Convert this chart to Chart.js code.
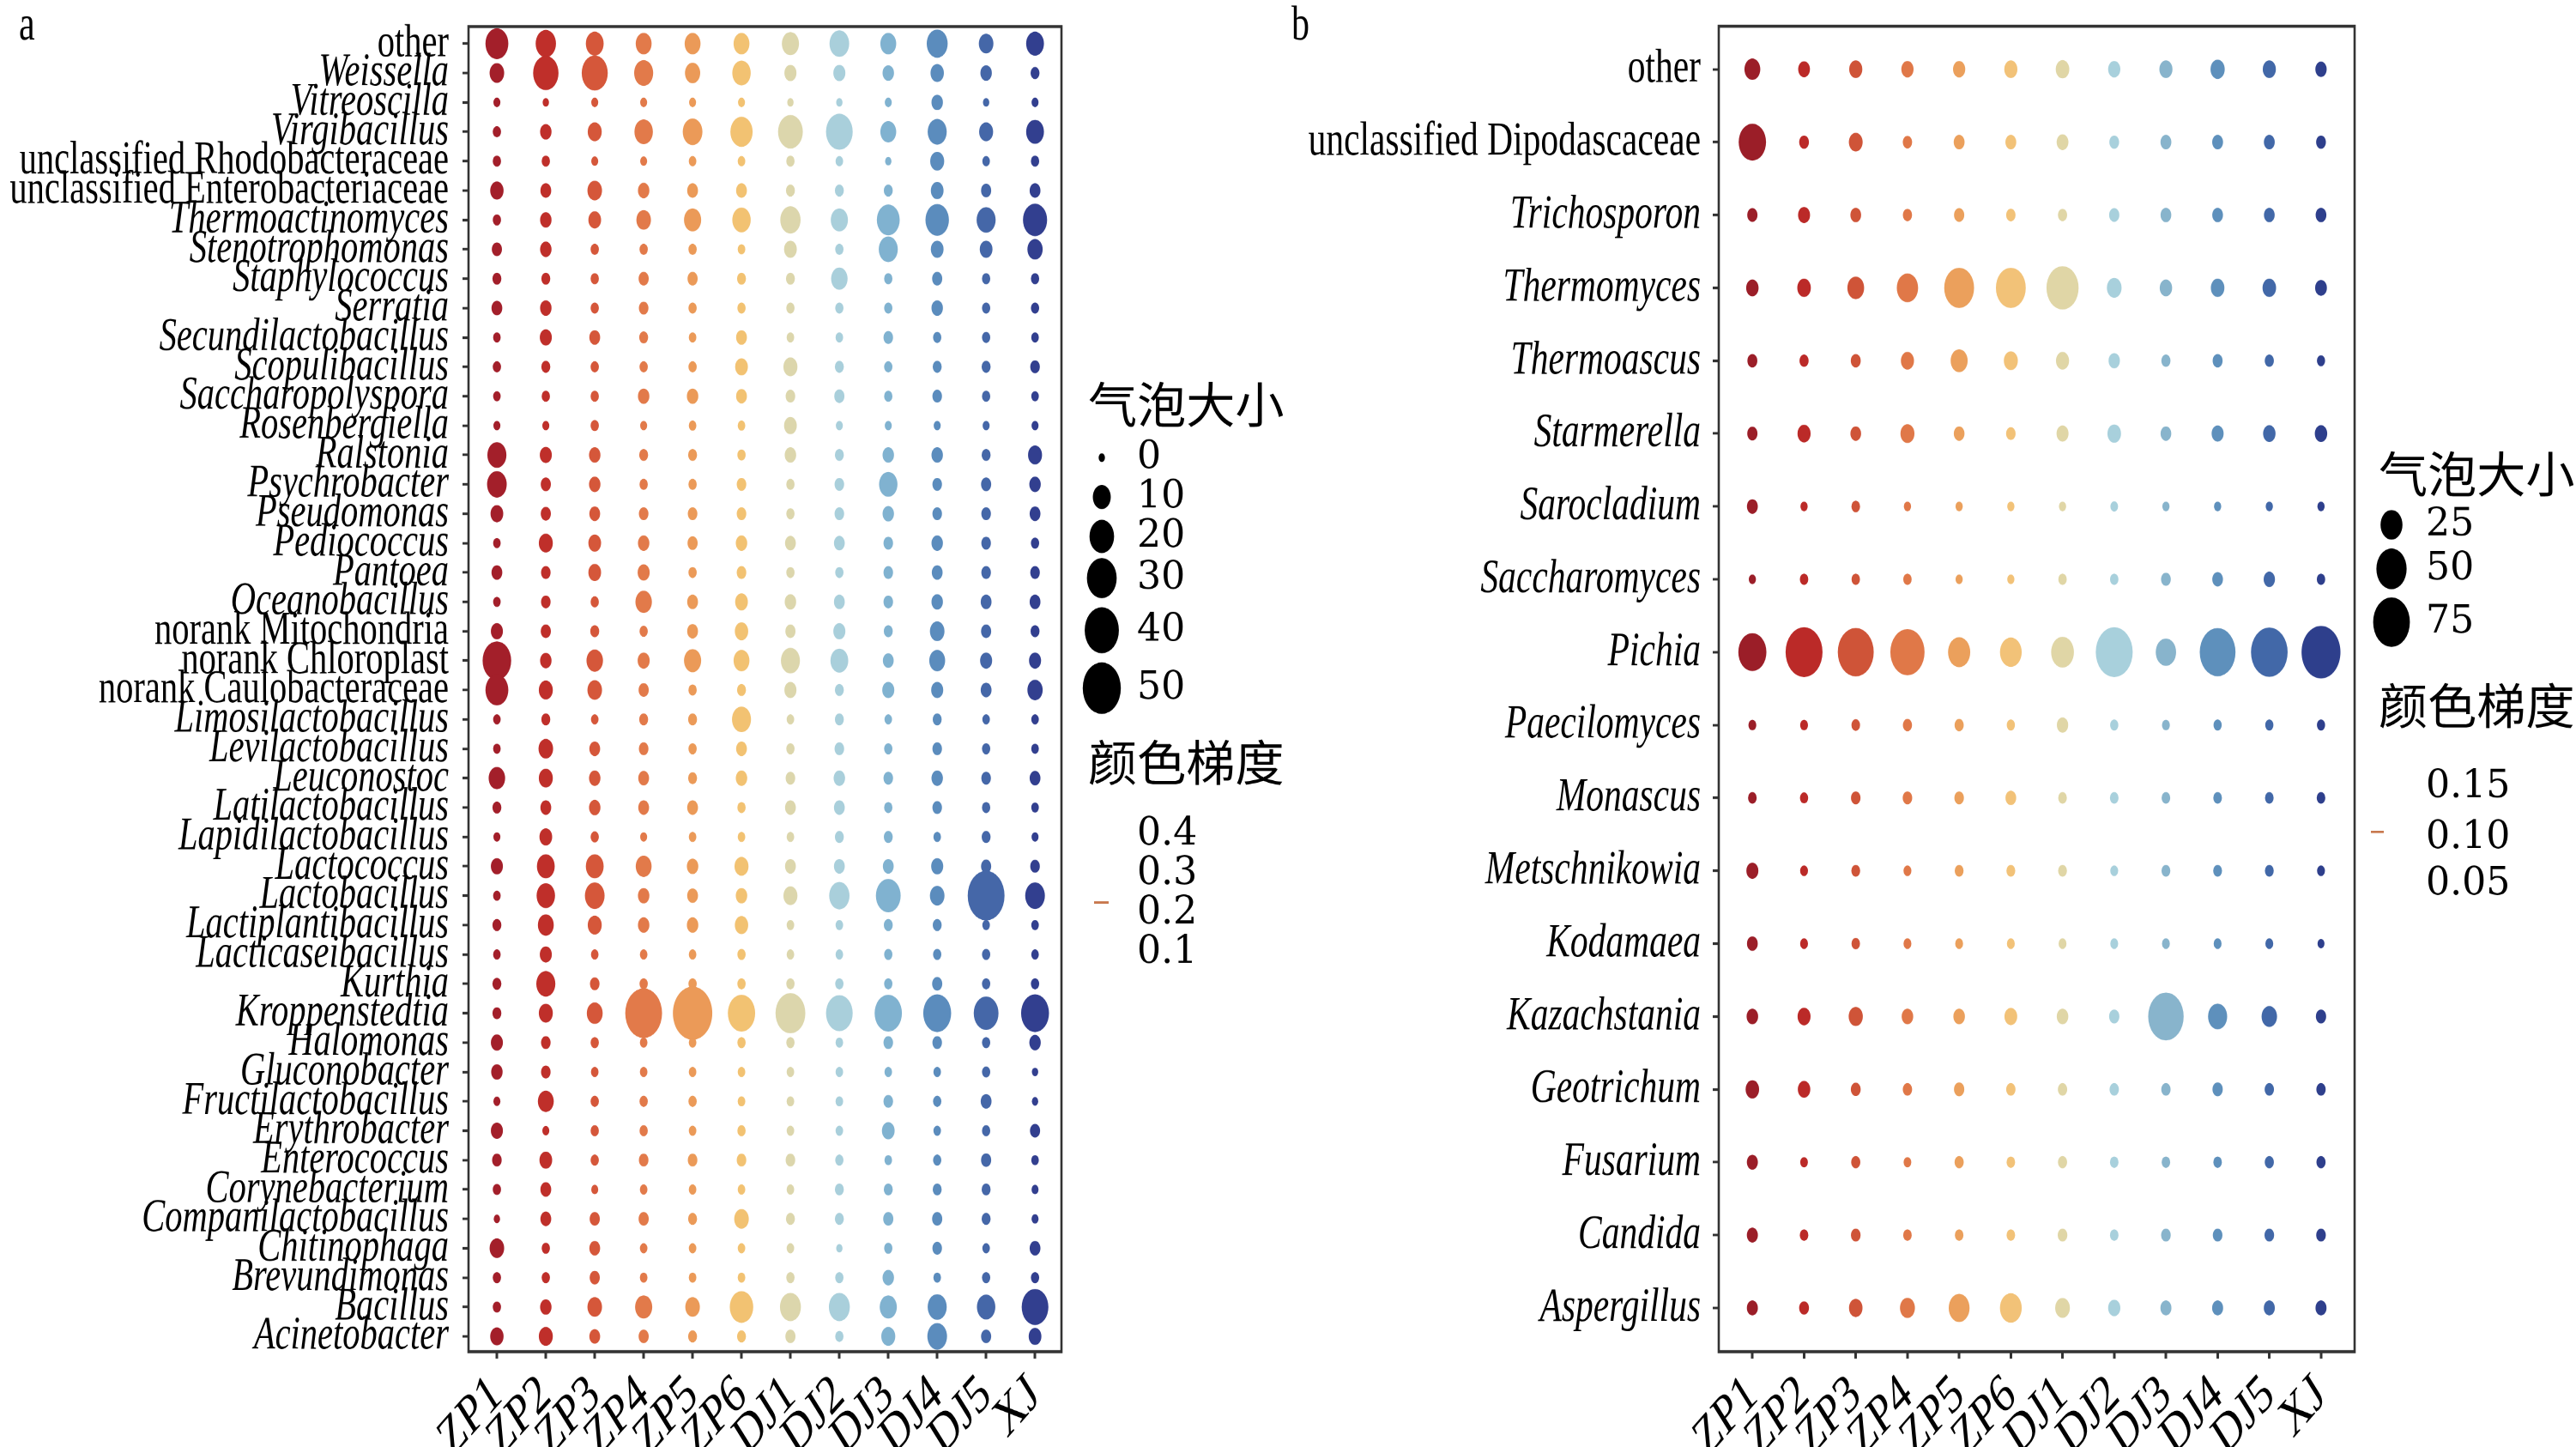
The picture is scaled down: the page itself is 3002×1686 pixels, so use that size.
<!DOCTYPE html>
<html>
<head>
<meta charset="utf-8">
<script src="https://cdn.jsdelivr.net/npm/chart.js@4"></script>
<style>
html, body { margin: 0; padding: 0; background: #fff; }
body { width: 3002px; height: 1686px; position: relative; overflow: hidden; }
/* the source figure is stretched vertically; draw flat and stretch the canvas */
.wrap { position: absolute; top: 0; transform-origin: 0 0; transform: scaleY(1.34988); }
</style>
</head>
<body>
<div class="wrap" style="left:0;width:1500px;height:1249px"><canvas id="ca" width="1500" height="1249"></canvas></div>
<div class="wrap" style="left:1490px;width:1512px;height:1249px"><canvas id="cb" width="1512" height="1249"></canvas></div>
<script>
// Bubble plots, bacteria (a) and fungi (b), 12 samples.
const samples = ['ZP1', 'ZP2', 'ZP3', 'ZP4', 'ZP5', 'ZP6', 'DJ1', 'DJ2', 'DJ3', 'DJ4', 'DJ5', 'XJ'];

const taxaA = ['other', 'Weissella', 'Vitreoscilla', 'Virgibacillus', 'unclassified Rhodobacteraceae',
  'unclassified Enterobacteriaceae', 'Thermoactinomyces', 'Stenotrophomonas', 'Staphylococcus', 'Serratia',
  'Secundilactobacillus', 'Scopulibacillus', 'Saccharopolyspora', 'Rosenbergiella', 'Ralstonia', 'Psychrobacter',
  'Pseudomonas', 'Pediococcus', 'Pantoea', 'Oceanobacillus', 'norank Mitochondria', 'norank Chloroplast',
  'norank Caulobacteraceae', 'Limosilactobacillus', 'Levilactobacillus', 'Leuconostoc', 'Latilactobacillus',
  'Lapidilactobacillus', 'Lactococcus', 'Lactobacillus', 'Lactiplantibacillus', 'Lacticaseibacillus', 'Kurthia',
  'Kroppenstedtia', 'Halomonas', 'Gluconobacter', 'Fructilactobacillus', 'Erythrobacter', 'Enterococcus',
  'Corynebacterium', 'Companilactobacillus', 'Chitinophaga', 'Brevundimonas', 'Bacillus', 'Acinetobacter'];

// bubble size per taxon (rows) and sample (columns)
const sizeA = [
  [17.1, 13.2, 9.8, 7.5, 7.5, 7.5, 9.0, 12.3, 7.5, 14.1, 6.1, 9.8],
  [6.1, 21.4, 22.6, 11.4, 6.8, 10.6, 3.7, 3.7, 3.2, 4.9, 3.2, 1.4],
  [0.3, 0, 0.3, 0.3, 0.3, 0.3, 0, 0, 0.3, 3.2, 0, 0.3],
  [1.0, 3.2, 5.5, 10.6, 12.3, 16.1, 20.3, 23.8, 7.5, 11.4, 5.5, 9.8],
  [1.0, 1.0, 0.3, 0.3, 0.6, 0.6, 1.0, 0.6, 0, 5.5, 0.6, 1.0],
  [4.9, 2.7, 6.1, 3.2, 2.7, 2.7, 1.4, 1.4, 1.4, 4.3, 2.2, 2.7],
  [1.0, 3.2, 4.3, 6.1, 9.0, 10.6, 13.2, 9.0, 17.1, 18.1, 11.4, 19.2],
  [2.2, 3.2, 1.0, 1.0, 1.0, 0.6, 4.3, 1.0, 11.4, 4.3, 4.3, 6.8],
  [1.4, 1.4, 1.0, 2.2, 2.2, 1.4, 1.4, 8.2, 1.0, 2.2, 1.0, 1.0],
  [2.7, 3.2, 1.0, 1.8, 1.0, 1.0, 1.0, 1.0, 1.0, 3.2, 1.0, 1.0],
  [0.6, 3.7, 2.7, 1.4, 0.6, 2.7, 0.6, 0.6, 1.8, 1.0, 1.0, 0.6],
  [1.0, 1.4, 1.0, 1.0, 1.0, 4.3, 5.5, 1.4, 1.0, 1.4, 1.4, 1.8],
  [0.6, 1.0, 1.0, 3.2, 3.2, 2.7, 1.8, 2.2, 1.0, 1.8, 1.0, 0.6],
  [0.3, 0.3, 1.0, 0.3, 0.6, 0.6, 4.3, 0.3, 0.3, 0.3, 0.3, 0.3],
  [11.4, 3.7, 3.2, 1.4, 1.4, 1.0, 3.2, 1.4, 3.2, 3.2, 1.4, 5.5],
  [12.3, 2.2, 3.2, 1.0, 1.0, 1.8, 1.0, 1.8, 10.6, 1.8, 2.2, 3.2],
  [4.3, 2.2, 2.7, 1.8, 1.8, 1.8, 1.0, 1.8, 3.2, 1.8, 1.8, 2.7],
  [0.6, 5.5, 4.3, 3.2, 2.2, 3.2, 2.7, 2.7, 1.8, 3.2, 1.8, 1.0],
  [2.7, 1.8, 4.3, 3.7, 1.0, 1.8, 1.0, 1.0, 1.8, 2.7, 1.8, 1.8],
  [0.6, 1.8, 1.0, 8.2, 2.7, 4.3, 3.2, 2.7, 1.8, 3.2, 2.7, 2.7],
  [3.7, 2.2, 1.4, 1.0, 2.7, 4.9, 2.2, 3.7, 1.4, 6.1, 2.2, 1.4],
  [27.5, 3.2, 8.2, 3.7, 9.0, 7.5, 11.4, 9.8, 2.7, 7.5, 3.7, 3.7],
  [17.1, 5.5, 6.1, 2.2, 1.0, 1.4, 3.7, 1.4, 3.7, 3.7, 2.7, 6.8],
  [0.6, 1.4, 0.6, 1.4, 1.4, 11.4, 0.6, 1.4, 0.6, 1.4, 0.6, 0.6],
  [0.6, 6.1, 2.7, 1.8, 1.0, 2.7, 1.0, 1.8, 1.0, 1.8, 1.0, 0.6],
  [8.2, 5.5, 3.2, 2.7, 1.4, 3.2, 1.8, 3.2, 1.8, 3.2, 1.8, 2.7],
  [1.4, 2.7, 3.2, 2.7, 2.7, 1.0, 2.7, 2.7, 1.0, 1.8, 1.0, 0.6],
  [0.3, 4.3, 1.0, 0.3, 0.6, 0.6, 0.6, 1.4, 1.4, 0.6, 1.4, 0.3],
  [3.7, 9.8, 9.8, 7.5, 3.2, 5.5, 2.7, 2.7, 2.7, 3.7, 2.2, 1.8],
  [0.6, 10.6, 12.3, 3.2, 2.7, 3.2, 5.5, 13.2, 20.3, 6.1, 46.6, 12.3],
  [1.4, 7.5, 5.5, 3.2, 3.2, 4.9, 0.6, 0.6, 1.4, 1.4, 0.6, 0.6],
  [0.6, 3.7, 0.6, 0.6, 0.6, 1.0, 0.6, 0.6, 1.0, 1.0, 1.0, 0.6],
  [1.4, 11.4, 1.8, 1.0, 1.0, 1.0, 1.0, 1.0, 1.0, 2.2, 1.0, 1.0],
  [1.4, 5.5, 7.5, 46.6, 53.5, 25.0, 30.1, 23.8, 25.0, 26.2, 20.3, 26.2],
  [3.7, 1.8, 1.0, 0.6, 0.6, 1.0, 1.0, 0.6, 1.8, 1.8, 1.0, 3.2],
  [3.2, 1.8, 0.6, 0.6, 0.6, 0.6, 0.6, 0.6, 0.6, 0.6, 1.0, 0],
  [0.3, 7.5, 1.0, 1.0, 1.0, 0.6, 0.6, 0.6, 1.8, 1.0, 2.7, 0],
  [3.7, 0.3, 1.0, 1.0, 0.6, 1.0, 0.6, 0.6, 4.3, 0.6, 1.0, 2.2],
  [1.8, 4.3, 1.0, 1.8, 1.8, 1.8, 1.8, 1.0, 0.6, 1.0, 2.2, 0.6],
  [1.0, 2.7, 0.3, 0.6, 0.6, 0.6, 0.6, 1.4, 1.4, 1.4, 1.4, 0.3],
  [0, 2.7, 2.2, 2.2, 1.4, 6.1, 1.4, 1.4, 2.2, 2.2, 1.4, 0.3],
  [6.1, 1.0, 2.7, 0.6, 0.6, 0.6, 0.6, 0, 1.0, 1.8, 0.6, 2.7],
  [1.0, 1.0, 2.2, 0.6, 0.6, 0.6, 1.0, 1.0, 3.2, 0.6, 1.0, 1.0],
  [1.0, 3.2, 6.1, 9.0, 6.1, 18.1, 14.1, 14.1, 9.0, 11.4, 10.6, 23.8],
  [4.9, 5.5, 2.7, 2.2, 1.4, 1.4, 2.2, 1.0, 5.5, 12.3, 2.2, 4.3],
];

const taxaB = ['other', 'unclassified Dipodascaceae', 'Trichosporon', 'Thermomyces', 'Thermoascus', 'Starmerella',
  'Sarocladium', 'Saccharomyces', 'Pichia', 'Paecilomyces', 'Monascus', 'Metschnikowia', 'Kodamaea',
  'Kazachstania', 'Geotrichum', 'Fusarium', 'Candida', 'Aspergillus'];

const sizeB = [
  [11.7, 5.2, 7.1, 5.8, 5.8, 7.1, 7.8, 5.8, 7.1, 8.9, 7.1, 4.6],
  [40.4, 2.7, 8.2, 2.2, 4.0, 4.0, 5.2, 2.7, 4.0, 4.0, 4.0, 2.7],
  [3.2, 5.5, 3.8, 2.0, 3.2, 2.2, 2.0, 3.2, 3.8, 3.8, 3.8, 3.8],
  [6.1, 7.8, 13.4, 23.4, 48.6, 48.6, 56.7, 9.7, 6.1, 7.8, 7.8, 5.2],
  [2.9, 2.0, 2.9, 7.1, 13.9, 8.5, 7.1, 4.6, 2.0, 2.9, 2.0, 1.1],
  [3.2, 7.1, 3.8, 8.5, 3.8, 2.4, 5.5, 7.8, 3.8, 5.5, 6.1, 6.1],
  [4.0, 0.2, 1.5, 0.2, 0.2, 0.2, 0.2, 0.6, 0.2, 0.2, 0.2, 0.2],
  [0.2, 1.3, 1.3, 1.3, 0.2, 0.2, 1.3, 1.3, 2.7, 3.8, 4.6, 1.3],
  [42.7, 75.9, 71.6, 64.7, 25.6, 24.5, 27.2, 75.9, 21.1, 70.9, 74.6, 84.5],
  [0.8, 0.8, 1.5, 2.0, 2.0, 1.1, 4.6, 1.1, 0.8, 1.1, 1.1, 1.1],
  [1.5, 1.1, 2.4, 2.4, 2.4, 3.8, 1.5, 1.5, 1.5, 1.5, 1.5, 1.5],
  [5.5, 0.8, 1.7, 0.8, 1.7, 1.7, 1.7, 0.8, 1.7, 1.7, 1.7, 0.8],
  [3.9, 0.8, 1.4, 0.8, 0.8, 0.8, 0.8, 0.8, 0.8, 0.8, 0.8, 0],
  [4.9, 6.9, 8.8, 4.9, 4.9, 6.6, 4.9, 3.3, 69.8, 18.3, 11.0, 3.3],
  [7.7, 6.2, 2.8, 2.2, 3.3, 2.2, 2.2, 2.2, 2.2, 3.3, 2.2, 2.2],
  [4.2, 0.6, 2.0, 0.6, 2.0, 1.4, 2.0, 1.4, 1.4, 1.4, 2.0, 2.0],
  [4.2, 1.4, 2.5, 1.4, 1.4, 1.4, 2.5, 1.4, 2.5, 2.5, 2.5, 2.5],
  [4.2, 2.8, 7.7, 10.1, 22.3, 24.6, 9.7, 5.8, 4.2, 4.2, 4.2, 4.2],
];

const sizeBreaksA = [0, 10, 20, 30, 40, 50];
const sizeBreaksB = [25, 50, 75];
const colourTicksA = ['0.4', '0.3', '0.2', '0.1'];
const colourTicksB = ['0.15', '0.10', '0.05'];

const colsA = ['#a31f2a', '#bf2f2a', '#d5573a', '#e27a4a', '#eb9a58', '#f2c272', '#dcd6ac', '#a9cfdb', '#80b2d0', '#5b8cbd', '#4567a8', '#323f8f'];
const colsB = ['#9b1e28', '#bb2a28', '#cf5438', '#e07848', '#eba05c', '#f2c278', '#e0d6a6', '#a8d0dc', '#88b4cc', '#5e90bc', '#4268a8', '#2e3f8c'];

const SERIF = '"Liberation Serif", "Times New Roman", serif';
const NUM = '"DejaVu Serif", serif';
const CJK = '"Noto Sans CJK SC", sans-serif';
const H = 1249, BOTTOM = 1166.7, TOP = 18.5;

// area-scaled radius, like scale_size(range)
const sizeFn = (r0, r1, vmax) => (v) => Math.sqrt(r0 * r0 + (r1 * r1 - r0 * r0) * v / vmax);
const plain = (s) => s === 'other' || /^(unclassified|norank) /.test(s);

// legend text in the source is not stretched: widen it back horizontally
function wide(ctx, s, x, y, font, k) {
  ctx.save(); ctx.translate(x, y); ctx.scale(k, 1);
  ctx.font = font; ctx.textBaseline = 'middle'; ctx.textAlign = 'left';
  ctx.fillText(s, 0, 0); ctx.restore();
}

function framePlugin(o) {
  return {
    id: 'frame',
    afterDraw(chart) {
      const { ctx, chartArea: a } = chart;
      ctx.save();
      ctx.strokeStyle = '#333'; ctx.lineWidth = 2.6;
      ctx.strokeRect(a.left, a.top, a.right - a.left, a.bottom - a.top);
      ctx.fillStyle = '#000';
      ctx.font = `42px ${SERIF}`; ctx.textBaseline = 'alphabetic';
      ctx.fillText(o.letter, o.letterX, 34);
      wide(ctx, '气泡大小', o.legX, o.titleY, `42px ${CJK}`, 1.36);
      o.breaks.forEach((b, i) => {
        ctx.beginPath(); ctx.arc(o.dotX, o.dotY[i], o.r(b), 0, Math.PI * 2); ctx.fill();
        wide(ctx, String(b), o.numX, o.dotY[i], `34px ${NUM}`, 1.3);
      });
      wide(ctx, '颜色梯度', o.legX, o.colTitleY, `42px ${CJK}`, 1.36);
      o.colTicks.forEach((t, i) => wide(ctx, t, o.numX, o.colY[i], `34px ${NUM}`, 1.3));
      ctx.fillStyle = '#c8784e';
      ctx.fillRect(o.dashX, o.dashY - 1, o.dashW, 2);
      ctx.restore();
    },
  };
}

function panel(id, o) {
  const datasets = samples.map((s, i) => ({
    label: s,
    data: o.taxa.map((t, j) => ({ x: i, y: j, v: o.size[j][i] })),
    pointBackgroundColor: o.cols[i],
    pointBorderWidth: 0,
    pointRadius: (c) => o.r(c.raw ? c.raw.v : 0),
    pointHoverRadius: (c) => o.r(c.raw ? c.raw.v : 0),
  }));
  return new Chart(document.getElementById(id), {
    type: 'scatter',
    data: { datasets },
    options: {
      responsive: false, animation: false, devicePixelRatio: 2, events: [],
      layout: { padding: { left: 0, right: o.padR, top: TOP, bottom: 0 } },
      plugins: { legend: { display: false }, tooltip: { enabled: false } },
      scales: {
        x: {
          type: 'linear', min: o.xr[0], max: o.xr[1],
          afterBuildTicks: (s) => { s.ticks = samples.map((_, i) => ({ value: i })); },
          afterFit: (s) => { s.height = H - BOTTOM; s.paddingLeft = 0; s.paddingRight = 0; },
          ticks: { autoSkip: false, minRotation: 40, maxRotation: 40, padding: 3, color: '#000',
            font: { family: SERIF, size: 48 }, callback: (v) => samples[v] },
          grid: { drawOnChartArea: false, tickLength: 6, tickWidth: 3, tickColor: '#333' },
          border: { display: false },
        },
        y: {
          type: 'linear', reverse: true, min: o.yr[0], max: o.yr[1],
          afterBuildTicks: (s) => { s.ticks = o.taxa.map((_, j) => ({ value: j })); },
          afterFit: (s) => { s.width = o.axisW; s.paddingTop = 0; s.paddingBottom = 0; },
          ticks: { autoSkip: false, padding: o.yPad, color: '#000', callback: (v) => o.taxa[v],
            font: (c) => ({ family: SERIF, size: o.fs, style: plain(o.taxa[c.index]) ? 'normal' : 'italic' }) },
          grid: { drawOnChartArea: false, tickLength: 7, tickWidth: 2.2, tickColor: '#333' },
          border: { display: false },
        },
      },
    },
    plugins: [framePlugin(o)],
  });
}

const rA = sizeFn(3.7, 22.2, 50);
const rB = sizeFn(4.05, 21.4, 75);

function draw() {
  panel('ca', {
    taxa: taxaA, size: sizeA, cols: colsA, r: rA, fs: 40.5,
    xr: [-0.58, 11.54], yr: [-0.58, 44.52], axisW: 546, padR: 1500 - 1237, yPad: 16,
    letter: 'a', letterX: 22, legX: 1268, dotX: 1284, numX: 1325, titleY: 349,
    breaks: sizeBreaksA, dotY: [395, 429, 463, 499, 544, 594],
    colTitleY: 658, colTicks: colourTicksA, colY: [720, 754, 788, 822], dashX: 1275, dashW: 17, dashY: 779,
  });
  panel('cb', {
    taxa: taxaB, size: sizeB, cols: colsB, r: rB, fs: 41.5,
    xr: [-0.65, 11.65], yr: [-0.59, 17.6], axisW: 513, padR: 1512 - 1254, yPad: 14,
    letter: 'b', letterX: 15, legX: 1282, dotX: 1297, numX: 1337, titleY: 409,
    breaks: sizeBreaksB, dotY: [453, 491, 537],
    colTitleY: 609, colTicks: colourTicksB, colY: [679, 723, 763], dashX: 1273, dashW: 15, dashY: 718,
  });
}

const fonts = ['40px "Liberation Serif"', 'italic 40px "Liberation Serif"', '34px "DejaVu Serif"', '42px "Noto Sans CJK SC"'];
Promise.all(fonts.map((f) => document.fonts.load(f))).then(draw, draw);
</script>
</body>
</html>
